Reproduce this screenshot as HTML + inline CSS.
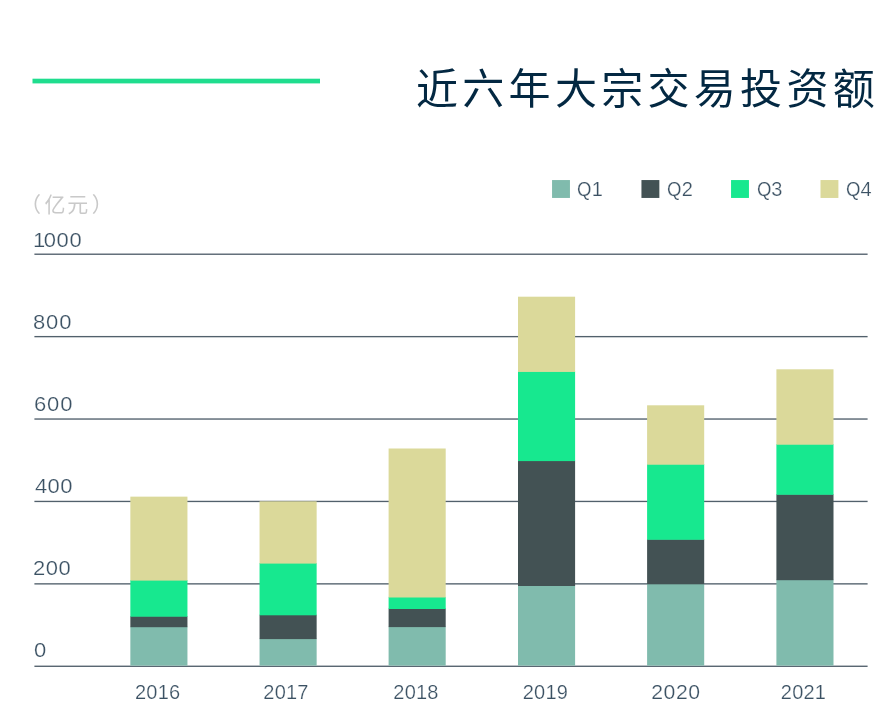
<!DOCTYPE html>
<html lang="zh-CN">
<head>
<meta charset="utf-8">
<title>近六年大宗交易投资额</title>
<style>
html,body{margin:0;padding:0;background:#fff;}
body{width:896px;height:718px;position:relative;overflow:hidden;font-family:"Liberation Sans","Noto Sans CJK SC",sans-serif;}
svg.gfx{position:absolute;left:0;top:0;width:896px;height:718px;display:block;}
.title{position:absolute;left:416px;top:60px;font-size:42px;line-height:60px;letter-spacing:4.3px;color:#032842;white-space:nowrap;font-weight:400;}
.unit{position:absolute;left:20px;top:190.7px;font-size:21px;line-height:28px;color:#c9c9c9;white-space:nowrap;font-weight:400;}
.yl{position:absolute;left:33.5px;font-size:20px;line-height:20px;letter-spacing:0.8px;color:#3b5163;white-space:nowrap;transform:scaleX(1.10);transform-origin:0 0;-webkit-text-stroke:0.24px #fff;}
.xl{position:absolute;top:682px;font-size:20px;line-height:20px;letter-spacing:0.2px;color:#3b5163;white-space:nowrap;transform:translateX(-50%);-webkit-text-stroke:0.24px #fff;}
.lt{position:absolute;top:177.7px;font-size:20px;line-height:22px;color:#3b5163;white-space:nowrap;-webkit-text-stroke:0.24px #fff;}
.lt .q{display:inline-block;width:14.85px;transform:scaleX(.93);transform-origin:0 50%;}
</style>
</head>
<body>
<svg class="gfx" width="896" height="718" viewBox="0 0 896 718">
<rect x="32.5" y="78.7" width="287.5" height="4.7" fill="#1fdd8e"/>
<g fill="#52606c">
<rect x="34.4" y="253.54" width="833.2" height="1.35"/>
<rect x="34.4" y="335.95" width="833.2" height="1.35"/>
<rect x="34.4" y="418.36" width="833.2" height="1.35"/>
<rect x="34.4" y="500.77" width="833.2" height="1.35"/>
<rect x="34.4" y="583.19" width="833.2" height="1.35"/>
<rect x="34.4" y="665.60" width="833.2" height="1.35"/>
</g>
<g>
<rect x="130.35" y="626.60" width="57.10" height="39.00" fill="#80bbad"/>
<rect x="130.35" y="616.10" width="57.10" height="11.10" fill="#435254"/>
<rect x="130.35" y="580.00" width="57.10" height="36.70" fill="#17e88f"/>
<rect x="130.35" y="496.65" width="57.10" height="83.95" fill="#dbd99a"/>
</g>
<g>
<rect x="259.55" y="638.50" width="57.10" height="27.10" fill="#80bbad"/>
<rect x="259.55" y="614.70" width="57.10" height="24.40" fill="#435254"/>
<rect x="259.55" y="563.00" width="57.10" height="52.30" fill="#17e88f"/>
<rect x="259.55" y="501.30" width="57.10" height="62.30" fill="#dbd99a"/>
</g>
<g>
<rect x="388.60" y="626.50" width="57.10" height="39.10" fill="#80bbad"/>
<rect x="388.60" y="608.40" width="57.10" height="18.70" fill="#435254"/>
<rect x="388.60" y="596.90" width="57.10" height="12.10" fill="#17e88f"/>
<rect x="388.60" y="448.50" width="57.10" height="149.00" fill="#dbd99a"/>
</g>
<g>
<rect x="518.00" y="585.40" width="57.10" height="80.20" fill="#80bbad"/>
<rect x="518.00" y="460.50" width="57.10" height="125.50" fill="#435254"/>
<rect x="518.00" y="371.30" width="57.10" height="89.80" fill="#17e88f"/>
<rect x="518.00" y="296.70" width="57.10" height="75.20" fill="#dbd99a"/>
</g>
<g>
<rect x="647.10" y="583.70" width="57.10" height="81.90" fill="#80bbad"/>
<rect x="647.10" y="539.20" width="57.10" height="45.10" fill="#435254"/>
<rect x="647.10" y="464.10" width="57.10" height="75.70" fill="#17e88f"/>
<rect x="647.10" y="405.30" width="57.10" height="59.40" fill="#dbd99a"/>
</g>
<g>
<rect x="776.40" y="579.60" width="57.10" height="86.00" fill="#80bbad"/>
<rect x="776.40" y="494.20" width="57.10" height="86.00" fill="#435254"/>
<rect x="776.40" y="444.10" width="57.10" height="50.70" fill="#17e88f"/>
<rect x="776.40" y="369.30" width="57.10" height="75.40" fill="#dbd99a"/>
</g>
<rect x="552.05" y="180.05" width="17.9" height="17.9" fill="#80bbad"/>
<rect x="641.45" y="180.05" width="17.9" height="17.9" fill="#435254"/>
<rect x="731.05" y="180.05" width="17.9" height="17.9" fill="#17e88f"/>
<rect x="820.50" y="180.05" width="17.9" height="17.9" fill="#dbd99a"/>
</svg>
<div class="title">近六年大宗交易投资额</div>
<div class="unit"><span style="letter-spacing:3.5px">（</span><span style="letter-spacing:1.7px">亿</span><span style="letter-spacing:3.5px">元</span>）</div>
<div class="yl" style="top:229.80px;left:33.0px;letter-spacing:0.5px"><span style="letter-spacing:-1.3px">1</span>000</div>
<div class="yl" style="top:311.74px;left:33.0px;letter-spacing:0.8px">800</div>
<div class="yl" style="top:393.68px;left:34.2px;letter-spacing:0.8px">600</div>
<div class="yl" style="top:475.62px;left:34.6px;letter-spacing:0.3px">400</div>
<div class="yl" style="top:557.56px;left:33.0px;letter-spacing:0.5px">200</div>
<div class="yl" style="top:639.50px;left:34.3px;letter-spacing:0.8px">0</div>
<div class="xl" style="left:157.7px">2016</div>
<div class="xl" style="left:286.0px">2017</div>
<div class="xl" style="left:416.0px">2018</div>
<div class="xl" style="left:545.4px">2019</div>
<div class="xl" style="left:676.0px;letter-spacing:0.55px;transform:translateX(-50%) scaleX(1.06)">2020</div>
<div class="xl" style="left:803.5px">2021</div>
<div class="lt" style="left:577.00px"><span class="q">Q</span>1</div>
<div class="lt" style="left:667.00px"><span class="q">Q</span>2</div>
<div class="lt" style="left:756.50px"><span class="q">Q</span>3</div>
<div class="lt" style="left:845.70px"><span class="q">Q</span>4</div>
</body>
</html>
